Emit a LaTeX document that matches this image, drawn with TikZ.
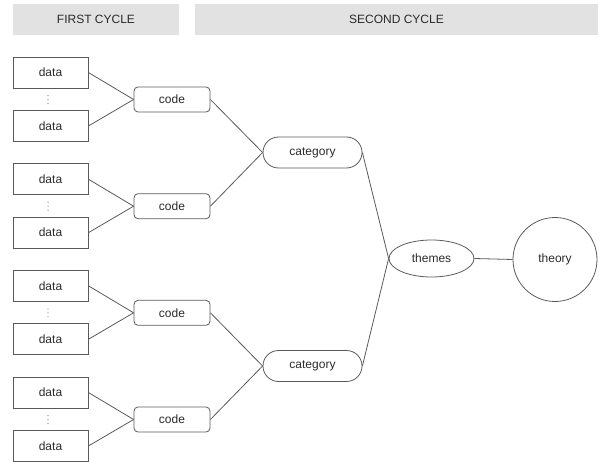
\documentclass[tikz,border=0pt]{standalone}
\usepackage{fontspec}
\setmainfont{Liberation Sans}
\usetikzlibrary{shapes.geometric}
\definecolor{hdr}{HTML}{E2E2E2}
\definecolor{txt}{HTML}{2A2A2A}
\definecolor{edge}{HTML}{5A5A5A}
\tikzset{
  base/.style={draw=edge, line width=0.8pt, inner sep=0pt, text=txt, font=\fontsize{12}{14}\selectfont},
  databox/.style={base, rectangle, minimum width=75pt, minimum height=31pt},
  codebox/.style={base, rectangle, rounded corners=4pt, minimum width=76pt, minimum height=25pt},
  catbox/.style={base, rectangle, rounded corners=15.5pt, minimum width=99pt, minimum height=31pt},
  themebox/.style={base, ellipse, minimum width=85pt, minimum height=37pt},
  theorybox/.style={base, circle, minimum size=84pt},
  hdrbox/.style={fill=hdr, draw=none, inner sep=0pt, minimum height=31pt, text=txt, font=\fontsize{12}{14}\selectfont},
  link/.style={draw=edge, line width=0.8pt},
  dotmark/.style={fill=gray!60, draw=none}
}
\begin{document}
\begin{tikzpicture}[x=1pt,y=-1pt]
\useasboundingbox (0,0) rectangle (599,462);
\node[hdrbox, minimum width=166pt] (h1) at (96,19.5) {FIRST CYCLE};
\node[hdrbox, minimum width=403pt] (h2) at (396.5,19.5) {SECOND CYCLE};
\foreach \i/\y in {1/99.5, 2/206.2, 3/312.8, 4/419.5} {
  \node[codebox] (c\i) at (172,\y) {code};
  \node[databox] (da\i) at (50.5,\y-27) {data};
  \node[databox] (db\i) at (50.5,\y+26.5) {data};
  \foreach \d in {-4,0,4} {
    \fill[dotmark] (48,\y+\d) circle (0.8pt);
  }
  \draw[link] (da\i.east) -- (c\i.west);
  \draw[link] (db\i.east) -- (c\i.west);
}
\node[catbox] (k1) at (312.5,152.5) {category};
\node[catbox] (k2) at (312.5,366) {category};
\node[themebox] (th) at (431.5,258.5) {themes};
\node[theorybox] (ty) at (555,259.5) {theory};
\draw[link] (c1.east) -- (k1.west);
\draw[link] (c2.east) -- (k1.west);
\draw[link] (c3.east) -- (k2.west);
\draw[link] (c4.east) -- (k2.west);
\draw[link] (k1.east) -- (th.west);
\draw[link] (k2.east) -- (th.west);
\draw[link] (th.east) -- (ty.west);
\end{tikzpicture}
\end{document}
